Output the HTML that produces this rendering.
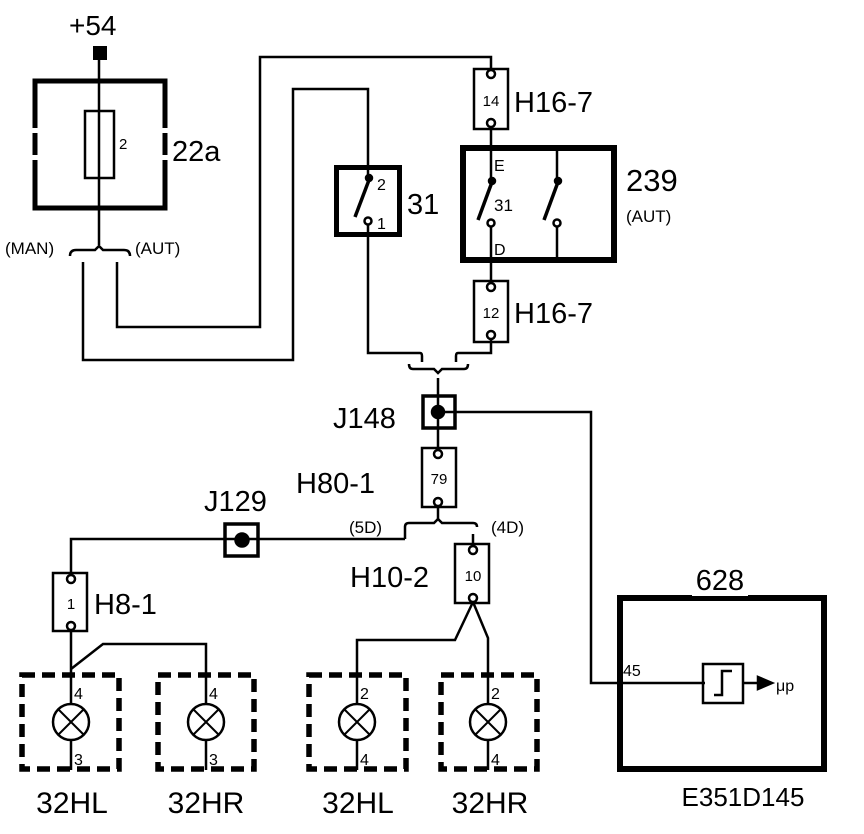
<!DOCTYPE html>
<html><head><meta charset="utf-8"><style>
html,body{margin:0;padding:0;background:#fff}
svg{display:block}
text{font-family:"Liberation Sans",Arial,sans-serif;fill:#000}
</style></head><body>
<svg width="864" height="834" viewBox="0 0 864 834" xmlns="http://www.w3.org/2000/svg">
<g fill="none" stroke="#000" stroke-width="2.5">
<rect x="93" y="46" width="14" height="14" fill="#000" stroke="none"/>
<line x1="99" y1="53" x2="99" y2="245"/>
<g stroke-width="5">
<path d="M35 128 V81 H165 V128"/>
<path d="M35 133 V155 M165 133 V155"/>
<path d="M35 160 V208 H165 V160"/>
</g>
<rect x="85" y="111" width="29" height="67"/>
<path d="M70 256 Q70 250 76 250 H95 L99 246 L103 250 H124 Q130 250 130 256"/>
<path d="M83 262 V360 H293 V89 H368 V165"/>
<path d="M117 262 V327 H260 V57 H491 V69"/>
<rect x="336.5" y="167.5" width="63" height="67" stroke-width="5"/>
<line x1="368" y1="165" x2="368" y2="180"/>
<line x1="369" y1="180" x2="355" y2="217" stroke-width="3.5"/>
<circle cx="369" cy="178" r="3" fill="#000"/>
<circle cx="368" cy="221" r="3.5" fill="#fff"/>
<path d="M368 225 V353 H420 Q422 353 422 356 V362"/>
<rect x="474" y="69" width="34" height="60"/>
<circle cx="491" cy="74" r="4" fill="#fff"/>
<circle cx="491" cy="123" r="4" fill="#fff"/>
<line x1="491" y1="127" x2="491" y2="182"/>
<rect x="463" y="148" width="151" height="112" stroke-width="6"/>
<line x1="492" y1="182" x2="478" y2="220" stroke-width="3.5"/>
<circle cx="492" cy="181" r="3" fill="#000"/>
<circle cx="491" cy="223" r="3.5" fill="#fff"/>
<line x1="491" y1="227" x2="491" y2="283"/>
<line x1="557" y1="148" x2="557" y2="182"/>
<line x1="558" y1="182" x2="544" y2="220" stroke-width="3.5"/>
<circle cx="558" cy="181" r="3" fill="#000"/>
<circle cx="557" cy="223" r="3.5" fill="#fff"/>
<line x1="557" y1="227" x2="557" y2="260"/>
<rect x="474" y="281" width="34" height="61"/>
<circle cx="491" cy="287" r="4" fill="#fff"/>
<circle cx="491" cy="335" r="4" fill="#fff"/>
<path d="M491 339 V353 H458 Q456 353 456 356 V362"/>
<path d="M409 364 Q409 369 413 369 H434 L438 373 L442 369 H464 Q468 369 468 364"/>
<line x1="438" y1="378" x2="438" y2="452"/>
<rect x="423" y="396" width="32" height="32" stroke-width="3.5"/>
<circle cx="438" cy="412" r="6" fill="#000"/>
<path d="M438 412 H591 V683 H705"/>
<rect x="422" y="448" width="34" height="59"/>
<circle cx="438" cy="454" r="4" fill="#fff"/>
<circle cx="438" cy="502" r="4" fill="#fff"/>
<line x1="438" y1="506" x2="438" y2="519"/>
<path d="M405 539 V527 Q405 523 409 523 H434 L438 519 L442 523 H473 Q477 523 477 527"/>
<path d="M405 539 H71 V578"/>
<line x1="473" y1="534" x2="473" y2="549"/>
<rect x="225" y="524" width="33" height="32" stroke-width="3.5"/>
<circle cx="242" cy="540" r="6.5" fill="#000"/>
<rect x="53" y="573" width="34" height="58"/>
<circle cx="71" cy="579" r="4" fill="#fff"/>
<circle cx="71" cy="626" r="4" fill="#fff"/>
<path d="M71 630 V770"/>
<path d="M71 669 L103 644 H206 V770"/>
<rect x="455" y="544" width="34" height="59"/>
<circle cx="473" cy="550" r="4" fill="#fff"/>
<circle cx="473" cy="598" r="4" fill="#fff"/>
<path d="M473 602 L455 640 H357 V770"/>
<path d="M473 602 L488 638 V770"/>
<g stroke-width="5.5" stroke-dasharray="13 7">
<rect x="22" y="675" width="97" height="94"/>
<rect x="158" y="675" width="96" height="94"/>
<rect x="309" y="675" width="97" height="94"/>
<rect x="441" y="675" width="96" height="94"/>
</g>
<g fill="#fff">
<circle cx="71" cy="722" r="18"/>
<circle cx="206" cy="722" r="18"/>
<circle cx="357" cy="722" r="18"/>
<circle cx="488" cy="722" r="18"/>
</g>
<g stroke-width="2">
<path d="M58 709 L84 735 M84 709 L58 735"/>
<path d="M193 709 L219 735 M219 709 L193 735"/>
<path d="M344 709 L370 735 M370 709 L344 735"/>
<path d="M475 709 L501 735 M501 709 L475 735"/>
</g>
<rect x="620" y="598" width="204" height="171" stroke-width="6"/>
<rect x="703" y="664" width="40" height="39" stroke-width="2.5"/>
<path d="M714 695 H722 V671 H732" stroke-width="2.5"/>
<line x1="743" y1="683" x2="760" y2="683"/>
<path d="M758 677 L772 683 L758 689 Z" fill="#000"/>
</g>
<rect x="692" y="592" width="56" height="4" fill="#fff"/>
<text x="69" y="35" font-size="28">+54</text>
<text x="119" y="149" font-size="15">2</text>
<text x="172" y="161" font-size="29">22a</text>
<text x="5" y="254" font-size="17">(MAN)</text>
<text x="135" y="254" font-size="17">(AUT)</text>
<text x="377" y="190" font-size="16">2</text>
<text x="377" y="229" font-size="16">1</text>
<text x="407" y="214" font-size="29">31</text>
<text x="491" y="106" font-size="15" text-anchor="middle">14</text>
<text x="514" y="112" font-size="29">H16-7</text>
<text x="494" y="171" font-size="16">E</text>
<text x="494" y="211" font-size="17">31</text>
<text x="494" y="255" font-size="16">D</text>
<text x="626" y="191" font-size="31">239</text>
<text x="626" y="222" font-size="17">(AUT)</text>
<text x="491" y="318" font-size="15" text-anchor="middle">12</text>
<text x="514" y="323" font-size="29">H16-7</text>
<text x="333" y="428" font-size="29">J148</text>
<text x="439" y="484" font-size="15" text-anchor="middle">79</text>
<text x="296" y="493" font-size="29">H80-1</text>
<text x="204" y="511" font-size="29">J129</text>
<text x="349" y="533" font-size="17">(5D)</text>
<text x="491" y="533" font-size="17">(4D)</text>
<text x="473" y="581" font-size="15" text-anchor="middle">10</text>
<text x="350" y="587" font-size="29">H10-2</text>
<text x="71" y="609" font-size="15" text-anchor="middle">1</text>
<text x="94" y="614" font-size="29">H8-1</text>
<text x="74" y="699" font-size="16">4</text>
<text x="74" y="765" font-size="16">3</text>
<text x="209" y="699" font-size="16">4</text>
<text x="209" y="765" font-size="16">3</text>
<text x="360" y="699" font-size="16">2</text>
<text x="360" y="765" font-size="16">4</text>
<text x="491" y="699" font-size="16">2</text>
<text x="491" y="765" font-size="16">4</text>
<text x="72" y="813" font-size="30" text-anchor="middle">32HL</text>
<text x="206" y="813" font-size="30" text-anchor="middle">32HR</text>
<text x="358" y="813" font-size="30" text-anchor="middle">32HL</text>
<text x="490" y="813" font-size="30" text-anchor="middle">32HR</text>
<text x="720" y="590" font-size="29" text-anchor="middle">628</text>
<text x="623" y="676" font-size="16">45</text>
<text x="776" y="691" font-size="16">μp</text>
<text x="743" y="806" font-size="26" text-anchor="middle">E351D145</text>
</svg>
</body></html>
